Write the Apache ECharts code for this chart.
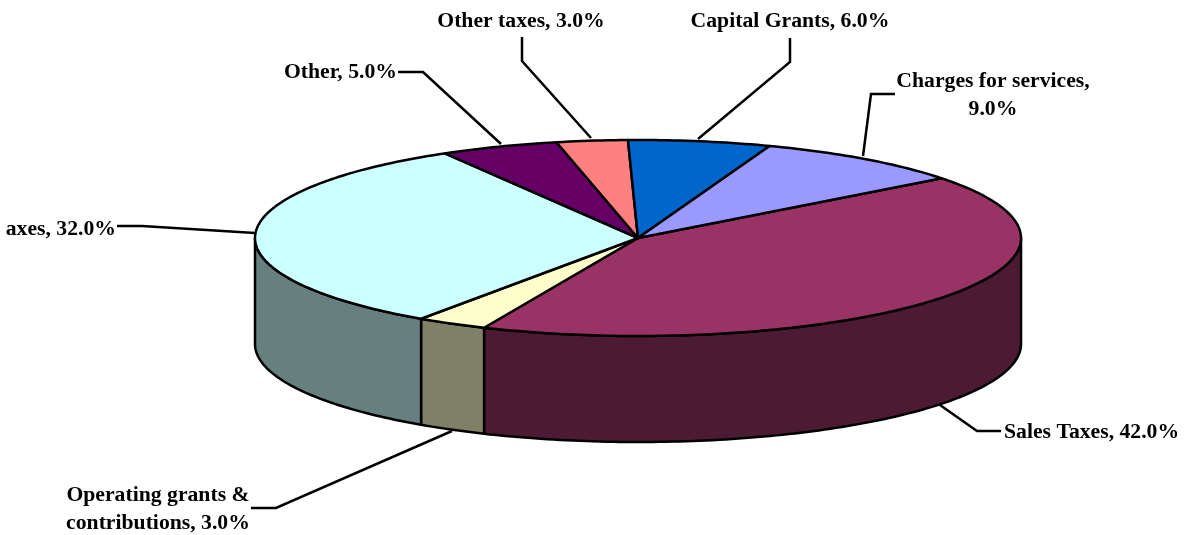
<!DOCTYPE html>
<html>
<head>
<meta charset="utf-8">
<style>
  html, body { margin: 0; padding: 0; background: #fff; }
  #chart { width: 1186px; height: 535px; }
</style>
<script src="https://cdn.jsdelivr.net/npm/echarts@6/dist/echarts.min.js"></script>
</head>
<body>
<div id="chart"></div>
<script>
// clockwise from the Sales/Charges edge
const categories = ['Sales Taxes', 'Operating grants &\ncontributions', 'axes', 'Other', 'Other taxes', 'Capital Grants', 'Charges for services'];
const shares = [42, 3, 32, 5, 3, 6, 9];
const separators = [' ', ' ', ' ', ' ', ' ', ' ', '\n'];

const topColors = ['#993366', '#FFFFCC', '#CCFFFF', '#660066', '#FF8080', '#0066CC', '#9999FF'];
const sideColors = ['#4D1A33', '#808066', '#668080', '#330033', '#804040', '#003366', '#4D4D80'];

// leader lines, x/y in page pixels
const leaders = [
  [[1001, 431], [977, 431], [940, 405]],
  [[251, 508], [276, 508], [452, 431]],
  [[117, 226], [142, 226], [255, 233]],
  [[398, 72], [423, 72], [501, 144]],
  [[522, 37], [522, 61], [591, 138]],
  [[790, 38], [790, 62], [698, 139]],
  [[895, 94], [871, 94], [863, 156]],
];
const labelPos = [
  [1004, 432, 'left'],
  [158, 509, 'center'],
  [116, 229, 'right'],
  [397, 72, 'right'],
  [521, 21, 'center'],
  [790, 21, 'center'],
  [993, 95, 'center'],
];

const CX = 638, CY = 238, RX = 383, RY = 98, DEPTH = 106;
const START_DEG = -37.5;

const total = shares.reduce((a, b) => a + b, 0);
let running = START_DEG;
const arcs = shares.map(v => {
  const from = running;
  running += (v / total) * 360;
  return [from, running];
});

function arcPoints(from, to, dy) {
  const pts = [];
  const steps = Math.max(2, Math.ceil(to - from));
  for (let i = 0; i <= steps; i++) {
    const t = (from + (to - from) * i / steps) * Math.PI / 180;
    pts.push([CX + RX * Math.cos(t), CY + dy + RY * Math.sin(t)]);
  }
  return pts;
}

function renderSlice(params, api) {
  const i = api.value(0);
  const [from, to] = arcs[i];
  const toPx = p => api.coord(p);
  const line = { stroke: '#000', lineWidth: 2.5, lineJoin: 'round' };
  const children = [];

  // front wall only exists for the lower half of the ellipse
  const sideFrom = Math.max(from, 0), sideTo = Math.min(to, 180);
  if (sideTo > sideFrom) {
    const wall = arcPoints(sideFrom, sideTo, 0).concat(arcPoints(sideFrom, sideTo, DEPTH).reverse());
    children.push({
      type: 'polygon', z2: 1,
      shape: { points: wall.map(toPx) },
      style: Object.assign({ fill: sideColors[i] }, line),
    });
  }
  const top = [[CX, CY]].concat(arcPoints(from, to, 0));
  children.push({
    type: 'polygon', z2: 2,
    shape: { points: top.map(toPx) },
    style: Object.assign({ fill: topColors[i] }, line),
  });
  children.push({
    type: 'polyline', z2: 0,
    shape: { points: leaders[i].map(toPx) },
    style: { fill: null, stroke: '#000', lineWidth: 2.5 },
  });
  const lp = toPx(labelPos[i]);
  children.push({
    type: 'text', z2: 3,
    x: lp[0], y: lp[1],
    style: {
      text: categories[i] + ',' + separators[i] + shares[i].toFixed(1) + '%',
      font: 'bold 21.7px "Liberation Serif", "Times New Roman", serif',
      fill: '#000',
      align: labelPos[i][2],
      verticalAlign: 'middle',
      lineHeight: 28,
    },
  });
  return { type: 'group', children };
}

const chart = echarts.init(document.getElementById('chart'), null, { renderer: 'canvas' });
chart.setOption({
  animation: false,
  backgroundColor: '#fff',
  grid: { left: 0, right: 0, top: 0, bottom: 0 },
  xAxis: { type: 'value', min: 0, max: 1186, show: false },
  yAxis: { type: 'value', min: 0, max: 535, inverse: true, show: false },
  series: [{
    type: 'custom',
    silent: true,
    clip: false,
    renderItem: renderSlice,
    data: shares.map((v, i) => [i, v]),
    encode: { x: 0, y: 1 },
  }],
});
</script>
</body>
</html>
